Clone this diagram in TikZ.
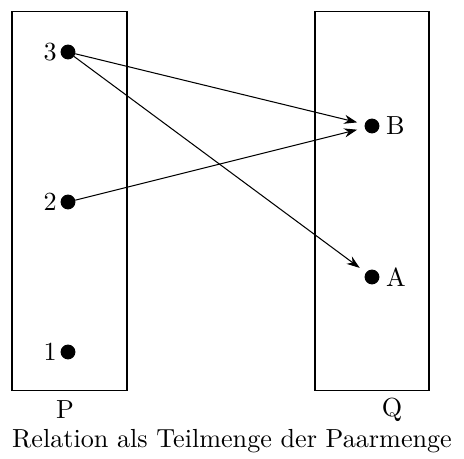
\documentclass[tikz,border=0pt]{standalone}
\usetikzlibrary{arrows.meta}
\begin{document}
\begin{tikzpicture}[x=0.01345cm, y=-0.01345cm, >={Stealth[length=5pt,width=3.5pt]}, auto]
\tikzset{pt/.style={draw, circle, fill, inner sep=0pt, minimum size=0.185cm},
         menge/.style={draw, inner sep=0pt}}
\useasboundingbox (0,0) rectangle (464,459);
\node[menge, minimum width=115*0.01345cm, minimum height=379*0.01345cm] (P) at (69.5,201) {};
\node[menge, minimum width=114*0.01345cm, minimum height=379*0.01345cm] (Q) at (372,201) {};
\node[pt, label={[label distance=-2pt]left:3}] (3) at (68,52) {};
\node[pt, label={[label distance=-2pt]left:2}] (2) at (68,202) {};
\node[pt, label={[label distance=-2pt]left:1}] (1) at (68,352) {};
\node[pt, label={[label distance=-1pt]right:B}] (B) at (372,126) {};
\node[pt, label={[label distance=-1pt]right:A}] (A) at (372,277) {};
\node (pl) at (65,410) {P};
\node (ql) at (392,410) {Q};
\node (cap) at (232,441) {Relation als Teilmenge der Paarmenge};
\draw[->, shorten >=3pt] (3) -- (B);
\draw[->, shorten >=3pt] (2) -- (B);
\draw[->, shorten >=3pt] (3) -- (A);
\end{tikzpicture}
\end{document}
